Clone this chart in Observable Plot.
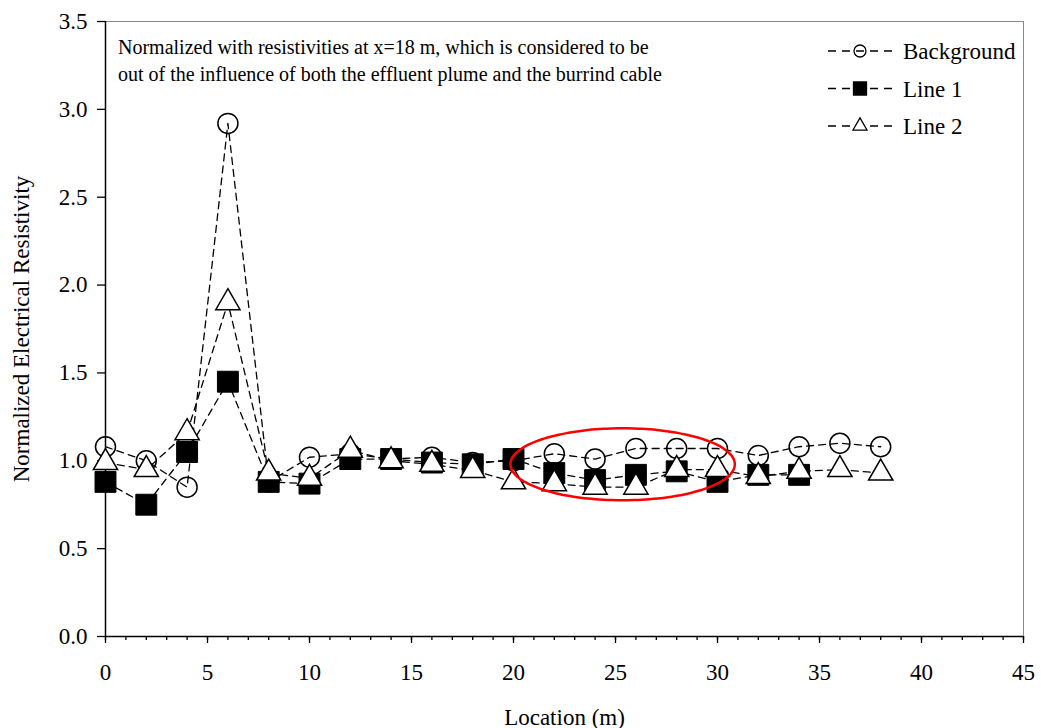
<!DOCTYPE html>
<html>
<head>
<meta charset="utf-8">
<script src="https://cdn.jsdelivr.net/npm/d3@7"></script>
<script src="https://cdn.jsdelivr.net/npm/@observablehq/plot@0.6"></script>
<style>
  html, body { margin: 0; padding: 0; background: white; }
  #chart { width: 1041px; height: 728px; }
</style>
</head>
<body>
<div id="chart"></div>
<script>
// ---- data ----
const locations = [0, 2, 4, 6, 8, 10, 12, 14, 16, 18, 20, 22, 24, 26, 28, 30, 32, 34, 36, 38];
const background = [1.08, 1.00, 0.85, 2.92, 0.88, 1.02, 1.04, 1.01, 1.02, 0.99, 1.00, 1.04, 1.01, 1.07, 1.07, 1.07, 1.03, 1.08, 1.10, 1.08];
const line1 = [0.88, 0.75, 1.05, 1.45, 0.88, 0.87, 1.01, 1.01, 0.99, 0.98, 1.01, 0.93, 0.89, 0.92, 0.94, 0.88, 0.92, 0.92];
const line2 = [0.99, 0.95, 1.16, 1.90, 0.93, 0.90, 1.06, 1.00, 0.98, 0.945, 0.88, 0.87, 0.85, 0.85, 0.95, 0.95, 0.91, 0.94, 0.95, 0.93];
const seriesNames = ["Background", "Line 1", "Line 2"];
const xMajorTicks = [0, 5, 10, 15, 20, 25, 30, 35, 40, 45];
const xMinorTicks = d3.range(0, 46, 1);
const yTicks = [0, 0.5, 1.0, 1.5, 2.0, 2.5, 3.0, 3.5];
const noteLines = [
  "Normalized with resistivities at x=18 m, which is considered to be",
  "out of the influence of both the effluent plume and the burrind cable"
];
// highlight ellipse (data units): centre x, centre y, radius x, radius y
const ellipseSpec = {cx: 25.35, cy: 0.98, rx: 5.5, ry: 0.205};

// ---- build tables ----
const bgData = background.map((v, i) => ({x: locations[i], y: v}));
const l1Data = line1.map((v, i) => ({x: locations[i], y: v}));
const l2Data = line2.map((v, i) => ({x: locations[i], y: v}));
const ellipse = d3.range(0, 361, 4).map(a => {
  const t = a * Math.PI / 180;
  return {x: ellipseSpec.cx + ellipseSpec.rx * Math.cos(t), y: ellipseSpec.cy + ellipseSpec.ry * Math.sin(t)};
});

const dash = "7,5";
const font = "'Liberation Serif', 'Times New Roman', serif";

function legendMark() {
  const g = d3.create("svg:g").attr("font-family", font).attr("text-anchor", "start");
  const rows = [
    {name: seriesNames[0], sym: d3.symbolCircle, size: Math.PI * 36, fill: "none"},
    {name: seriesNames[1], sym: d3.symbolSquare, size: 169, fill: "black"},
    {name: seriesNames[2], sym: d3.symbolTriangle, size: 85, fill: "white"}
  ];
  rows.forEach((r, i) => {
    const cy = 51 + i * 37.5;
    g.append("line").attr("x1", 828).attr("x2", 892).attr("y1", cy).attr("y2", cy)
      .attr("stroke", "black").attr("stroke-width", 1.3).attr("stroke-dasharray", "8,6");
    g.append("path").attr("d", d3.symbol(r.sym, r.size)()).attr("transform", `translate(860,${cy})`)
      .attr("fill", r.fill).attr("stroke", "black").attr("stroke-width", 1.3);
    g.append("text").attr("x", 903).attr("y", cy).attr("dy", "0.35em")
      .attr("font-size", 23).attr("fill", "black").text(r.name);
  });
  return g.node();
}

function noteMark() {
  const g = d3.create("svg:g").attr("font-family", font).attr("font-size", 20).attr("text-anchor", "start");
  noteLines.forEach((t, i) => {
    g.append("text").attr("x", 118).attr("y", 47 + i * 27).attr("dy", "0.35em").attr("fill", "black").text(t);
  });
  return g.node();
}

const chart = Plot.plot({
  width: 1041,
  height: 728,
  marginLeft: 105,
  marginRight: 18,
  marginTop: 21,
  marginBottom: 92,
  style: {fontFamily: font, fontSize: "22px", background: "white", color: "black"},
  x: {domain: [0, 45]},
  y: {domain: [0, 3.5]},
  marks: [
    Plot.frame({stroke: "#888", strokeWidth: 1}),
    Plot.axisX({ticks: xMinorTicks, tickSize: 4, tickFormat: () => "", label: null, strokeWidth: 1.3}),
    Plot.axisX({ticks: xMajorTicks, tickSize: 7, tickPadding: 20, tickFormat: d => String(d), fontSize: 23,
      label: "Location (m)", labelAnchor: "center", labelArrow: "none", labelOffset: 88, strokeWidth: 1.3}),
    Plot.axisY({ticks: yTicks, tickSize: 8, tickPadding: 10, tickFormat: d => d.toFixed(1), fontSize: 23,
      label: "Normalized Electrical Resistivity", labelAnchor: "center", labelArrow: "none", labelOffset: 93, strokeWidth: 1.3}),
    Plot.ruleX([0], {stroke: "black", strokeWidth: 1.5}),
    Plot.ruleY([0], {stroke: "black", strokeWidth: 1.5}),
    Plot.line(bgData, {x: "x", y: "y", stroke: "black", strokeWidth: 1.3, strokeDasharray: dash}),
    Plot.line(l1Data, {x: "x", y: "y", stroke: "black", strokeWidth: 1.3, strokeDasharray: dash}),
    Plot.line(l2Data, {x: "x", y: "y", stroke: "black", strokeWidth: 1.3, strokeDasharray: dash}),
    Plot.dot(bgData, {x: "x", y: "y", symbol: "circle", r: 10, fill: "none", stroke: "black", strokeWidth: 1.5}),
    Plot.dot(l1Data, {x: "x", y: "y", symbol: "square", r: 11.8, fill: "black", stroke: "black", strokeWidth: 1}),
    Plot.dot(l2Data, {x: "x", y: "y", symbol: "triangle", r: 9, fill: "white", stroke: "black", strokeWidth: 1.5}),
    Plot.line(ellipse, {x: "x", y: "y", stroke: "red", strokeWidth: 2.5, curve: "catmull-rom"}),
    noteMark,
    legendMark
  ]
});
document.getElementById("chart").appendChild(chart);
</script>
</body>
</html>
